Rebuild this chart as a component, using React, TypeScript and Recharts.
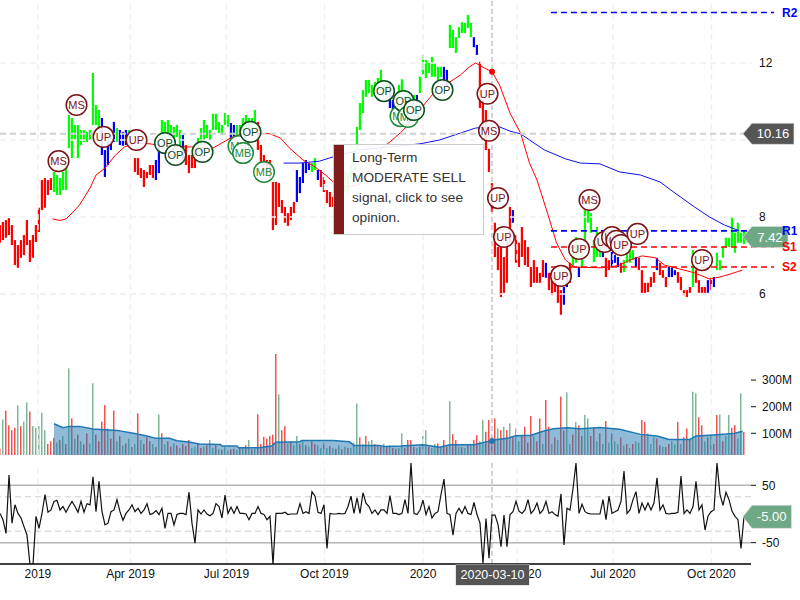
import React from "react";
import { ComposedChart, Bar, Line, Area, Scatter, XAxis, YAxis, ReferenceLine, ReferenceDot } from "recharts";

const highs = [
  7.79,7.87,7.92,7.97,7.79,7.40,7.27,7.40,7.53,7.92,
  7.40,7.53,7.79,8.24,8.96,9.01,8.96,9.01,9.17,9.09,
  9.01,9.17,9.35,10.65,10.57,10.39,10.39,10.26,10.26,10.21,
  10.26,11.74,10.91,10.78,10.57,9.74,10.0,10.13,10.47,10.31,
  10.26,10.21,10.26,10.26,10.23,9.53,9.53,9.27,9.22,9.17,
  9.35,9.35,9.48,9.92,10.52,10.47,10.52,10.39,10.34,10.39,
  10.26,10.13,9.87,9.61,9.61,9.74,10.05,10.31,10.52,10.39,
  10.26,10.68,10.68,10.47,10.39,10.70,10.65,10.44,10.39,10.39,
  10.39,10.57,10.65,10.57,10.57,10.78,10.47,9.87,9.61,9.48,
  9.48,8.91,8.91,8.88,8.44,8.26,8.10,8.26,8.39,9.22,
  9.04,9.40,9.48,9.40,9.40,9.53,9.22,9.22,9.04,8.70,
  8.65,8.52,8.75,9.01,9.09,9.17,9.14,9.35,9.74,10.34,
  10.96,11.30,11.56,11.56,11.43,11.51,11.61,11.82,11.56,11.48,
  11.51,11.04,11.17,11.43,11.58,11.30,11.17,11.22,11.17,11.17,
  11.64,12.21,12.08,12.0,12.16,12.0,11.90,11.90,11.90,11.82,
  12.99,12.86,12.67,12.93,13.06,13.04,13.25,13.04,12.67,12.47,
  12.03,11.04,10.78,9.77,8.88,7.85,7.22,7.22,6.96,7.40,
  8.26,8.18,7.53,7.33,7.74,7.40,7.22,6.70,6.88,6.70,
  6.55,6.88,6.81,6.55,6.55,6.44,6.23,6.10,6.18,6.55,
  6.81,7.27,7.48,6.70,7.22,8.18,8.18,8.10,7.40,7.74,
  7.40,7.09,6.94,6.88,7.09,7.01,6.96,6.81,6.88,7.07,
  7.14,7.14,6.96,6.94,6.62,6.29,6.29,6.44,6.57,6.94,
  6.81,6.62,6.44,6.70,6.68,6.62,6.57,6.44,6.10,6.10,
  6.18,7.14,6.62,6.36,6.18,6.18,6.36,6.42,6.44,7.07,
  6.88,7.22,7.46,7.46,8.0,7.59,7.85,7.59,7.64,
];
const lows = [
  7.33,7.40,7.46,7.53,7.27,6.75,6.68,6.94,7.01,7.27,
  6.83,6.94,7.35,7.61,8.18,8.24,8.57,8.70,8.65,8.57,
  8.57,8.70,8.70,9.79,9.53,10.0,9.53,9.87,9.95,9.95,
  10.0,10.39,10.39,10.26,9.61,9.04,9.35,9.74,9.95,9.95,
  9.87,9.85,9.87,10.0,10.05,9.17,9.09,9.01,8.78,9.01,
  9.09,9.01,8.96,9.14,10.0,10.05,10.13,10.05,9.92,10.08,
  9.87,9.48,9.35,9.14,9.27,9.27,9.74,9.87,10.0,10.05,
  10.0,10.26,10.26,10.18,10.13,10.39,10.34,10.0,10.10,10.13,
  10.13,10.26,10.26,10.31,10.26,10.39,9.74,9.43,9.35,9.09,
  9.01,7.66,7.79,8.26,8.10,7.85,7.77,7.92,8.10,8.39,
  8.62,8.88,9.14,9.22,9.17,9.22,8.96,8.78,8.65,8.36,
  8.26,8.26,8.31,8.49,8.65,8.65,8.62,9.01,9.22,9.74,
  10.26,10.70,11.12,11.22,11.12,11.22,11.30,11.48,11.30,11.25,
  10.83,10.78,11.04,11.09,11.22,11.04,11.04,11.04,11.04,10.96,
  11.22,11.69,11.61,11.74,11.64,11.64,11.56,11.64,11.48,11.38,
  12.39,12.39,12.26,12.65,12.78,12.78,12.91,12.67,12.41,12.21,
  10.83,10.26,9.74,9.17,8.13,6.96,6.62,5.92,6.03,6.29,
  7.33,7.85,6.81,6.70,6.96,6.75,6.70,6.18,6.29,6.29,
  6.29,6.44,6.42,6.10,5.97,6.05,5.77,5.46,5.72,6.18,
  6.29,6.70,6.81,6.44,6.70,7.40,7.85,7.59,6.83,6.96,
  6.96,6.96,6.44,6.62,6.70,6.81,6.70,6.55,6.57,6.81,
  6.81,6.88,6.70,6.62,6.03,6.03,6.05,6.18,6.29,6.62,
  6.49,6.42,6.18,6.44,6.44,6.49,6.29,6.10,5.97,5.92,
  6.03,6.18,6.29,6.03,6.03,6.03,6.03,6.10,6.18,6.62,
  6.62,6.94,7.20,7.22,7.22,7.07,7.33,7.33,7.30,
];
const priceClassRuns: [string, number][] = [
  ["r",18],["g",16],["b",5],["g",1],["b",3],["g",2],["r",7],["b",2],["g",7],["b",1],["r",4],["g",11],
  ["b",2],["g",7],["r",13],["b",5],["g",2],["b",1],["r",7],["g",16],["b",2],["g",7],["b",1],["g",8],
  ["b",2],["g",8],["b",2],["r",11],["b",1],["r",10],["b",1],["r",5],["b",2],["r",1],["g",2],["b",1],
  ["g",7],["b",1],["r",2],["b",3],["r",1],["g",4],["b",1],["r",6],["b",1],["r",3],["b",3],["r",5],
  ["g",1],["r",4],["b",1],["r",1],["b",1],["g",10],
];
const volumes = [
  43,152,185,130,112,121,205,127,144,216,
  182,127,121,127,178,112,60,70,83,66,
  75,90,60,344,156,80,95,70,58,100,
  62,288,95,70,144,206,118,80,185,70,
  90,55,62,80,48,60,175,75,60,85,
  70,60,48,171,100,60,70,50,62,55,
  45,60,52,75,45,50,62,45,50,55,
  75,45,55,40,38,48,35,40,42,38,
  45,48,55,75,40,42,172,60,87,80,
  90,95,398,246,112,127,62,70,55,90,
  60,70,55,50,70,60,55,45,65,45,
  52,45,42,55,40,50,45,45,65,212,
  85,60,90,70,75,60,55,50,60,48,
  55,45,42,45,100,45,75,75,48,45,
  50,90,112,50,45,60,62,48,75,50,
  221,97,75,50,48,45,55,60,75,93,
  70,150,106,150,85,156,118,112,125,112,
  137,85,118,70,90,125,65,165,90,70,
  156,60,225,125,60,85,75,238,110,254,
  60,95,143,130,90,169,156,90,120,70,
  100,60,146,65,100,70,60,85,55,60,
  45,60,70,65,150,143,100,60,85,80,
  55,50,48,60,70,58,143,60,85,118,
  75,256,250,160,130,70,85,95,60,169,
  171,70,90,169,120,131,80,250,105,
];
const volumeSides = "rgrrrrgrgg"+"rgggggrrrg"+"rgrgrgrgrr"+"ggrrrrgrrg"+"rgrgrgrgrr"+"rgrgrgrrgr"+"grrrggrrgr"+"ggrgrggrrg"+"rgrgrgrrrr"+"rrrgrrgrgg"+"rgrgrrggrg"+"rgrgrgrggg"+"rgrggrgrgr"+"grrggrrrrg"+"rggrggrgrr"+"grrgrgrgrr"+"ggrrrrgrgr"+"grggrrrrgr"+"rgrrgrgrrg"+"grgrrggrrg"+"rgrgrggrgr"+"grggrrgggr"+"rgrrggrgrr"+"rggrrgrgrr"+"grggrrggr";
const oscillator = [
  1,-10,-34,68,-16,16,1,-7,-22,-37,
  -88,-88,-4,-25,1,34,3,7,22,24,
  7,13,3,13,22,13,3,22,3,18,
  16,65,4,57,4,-19,-16,4,7,25,
  4,-11,1,7,16,4,10,1,7,18,
  -1,1,6,-1,10,-25,1,1,-19,-1,
  1,1,-1,38,-16,-51,7,0,7,0,
  -3,1,18,13,-7,33,1,12,1,13,
  1,1,0,-10,1,1,13,1,-1,-10,
  -4,-88,1,1,1,3,-1,0,0,0,
  18,1,4,1,39,31,3,1,16,-60,
  1,0,0,1,0,1,13,31,1,28,
  1,37,19,13,1,7,-1,7,7,1,
  32,1,1,-1,1,25,1,89,1,-1,
  7,24,-1,13,-7,1,4,34,61,1,
  -1,-37,1,10,1,13,1,-1,20,-1,
  -16,-86,-8,-77,-2,-2,-18,-57,-2,-57,
  -1,4,22,5,1,7,25,1,7,19,
  1,7,22,1,4,-1,-4,35,-54,10,
  7,44,89,1,17,4,1,0,0,0,
  0,25,-10,31,1,4,7,22,75,1,
  7,25,39,1,19,7,19,7,19,63,
  7,16,1,0,1,1,3,66,1,7,
  1,13,57,7,16,-28,-4,4,7,89,
  34,15,38,25,5,-4,-10,-60,-5,
];
const ma50: [number, number][] = [
  [35,7.95],[40,7.91],[44,7.95],[48,8.10],[53,8.31],[60,8.75],[64,9.09],[70,9.27],[77,9.61],[83,9.82],[90,9.92],
  [100,9.90],[110,9.84],[120,9.82],[127,9.82],[142,9.79],[155,10.08],[163,10.18],[170,10.18],[180,10.16],[187,10.05],
  [193,9.79],[202,9.48],[210,9.30],[217,9.09],[223,8.88],[230,8.78],[239,8.83],[247,9.27],[253,9.74],[260,9.95],
  [269,10.26],[277,10.65],[287,11.12],[293,11.38],[300,11.51],[307,11.69],[313,11.90],[317,12.0],[323,11.87],[328,11.77],
  [333,11.43],[340,10.70],[347,10.18],[353,9.40],[358,8.96],[365,8.10],[371,7.33],[377,6.88],[383,6.70],[400,6.68],
  [407,6.70],[413,6.75],[420,6.88],[428,6.99],[437,6.94],[443,6.75],[453,6.65],[463,6.55],[473,6.39],[480,6.44],[487,6.52],[495,6.62],
];
const ma200: [number, number][] = [
  [189,9.40],[200,9.40],[213,9.45],[222,9.56],[240,9.74],[260,9.82],[280,9.90],[293,10.0],[307,10.18],[317,10.31],[327,10.34],
  [333,10.34],[340,10.23],[347,10.16],[353,10.0],[363,9.74],[377,9.51],[387,9.40],[400,9.38],[413,9.17],[427,9.09],[440,8.91],
  [450,8.62],[463,8.26],[473,8.0],[483,7.79],[493,7.64],
];
const avgVolume: [number, number][] = [
  [36,136],[42,121],[46,126],[53,126],[62,116],[78,111],[89,100],[98,90],[104,81],[113,81],[118,72],[127,66],[133,60],[147,58],[148,52],
  [158,52],[159,46],[173,46],[181,52],[184,66],[200,68],[201,73],[222,73],[233,68],[236,54],[253,54],[257,50],[267,52],[282,57],[293,48],
  [300,57],[316,57],[322,65],[329,75],[338,81],[344,91],[354,93],[362,108],[369,117],[378,121],[387,117],[400,122],[413,115],[427,96],
  [438,90],[446,77],[460,77],[464,90],[473,93],[484,97],[490,100],[495,108],
];
const signalTexts = ["MS","MS","UP","UP","OP","OP","OP","MB","MB","OP","MB","OP","MB","OP","MB","OP","OP","UP","MS","UP","UP","UP","UP","MS","UP","UP","UP","UP","UP","UP"];
const signalSessions = [39,51,69,91,110,117,135,159,162,167,176,256,267,269,272,276,295,325,326,332,336,374,386,393,403,408,411,414,425,468];
const signalPrices = [9.45,10.91,10.08,10.0,9.92,9.61,9.69,9.84,9.66,10.21,9.17,11.27,10.62,11.01,10.60,10.78,11.30,11.20,10.24,8.49,7.48,6.47,7.17,8.44,7.35,7.48,7.38,7.27,7.56,6.88];
const tickSessions = [25.3,87,151,216.3,282,344.7,408.7,474.3];
const tickLabels = ["2019","Apr 2019","Jul 2019","Oct 2019","2020","Apr 2020","Jul 2020","Oct 2020"];
const levelNames = ["R2","R1","S1","S2"];
const levelValues = [13.31,7.64,7.22,6.70];
const levelColors = ["#0000ff","#0000ff","#ff0000","#ff0000"];
const priceTicks = [6,8,12];
const priceGrid = [6,8,10,12];
const volumeTicks = [100,200,300];
const oscTicks = [-50,50];
const oscDashed = [-30,30];

const FONT = "'Liberation Sans', Arial, sans-serif";
const CROSS_S = 328;
const priceClasses = priceClassRuns.flatMap(([c, n]) => Array(n).fill(c));
const rows = highs.map((h, i) => ({ s: i * 2, hi: h, lo: lows[i], cls: priceClasses[i], vol: volumes[i], side: volumeSides[i], osc: oscillator[i] }));
const ma50Rows = ma50.map(([s, v]) => ({ s, v }));
const ma200Rows = ma200.map(([s, v]) => ({ s, v }));
const avgRows = avgVolume.map(([s, v]) => ({ s, v }));
const signalRows = signalTexts.map((t, i) => ({ s: signalSessions[i], price: signalPrices[i], t }));
const classColor: Record<string, string> = { r: "#ff0000", g: "#00ff00", b: "#0000ff" };
const signalColor: Record<string, string> = { MS: "#7a1418", UP: "#7a1418", OP: "#0f4d1f", MB: "#1f8a3b" };

const PriceBar = (p: any) => {
  const c = classColor[p.payload.cls];
  return <rect x={p.x + p.width / 2 - 1.1} y={p.y} width={2.2} height={Math.abs(p.height)} fill={c} />;
};
const VolumeBar = (p: any) => {
  const c = p.payload.side === "r" ? "#ee2a24" : "#5fa67d";
  return <rect x={p.x + p.width / 2 - 0.6} y={p.y} width={1.2} height={Math.abs(p.height)} fill={c} />;
};

const Marker = (p: any) => {
  const c = signalColor[p.payload.t];
  return (
    <g>
      <circle cx={p.cx} cy={p.cy} r={10.3} fill="#fff" fillOpacity={0.88} stroke={c} strokeWidth={1.5} />
      <text x={p.cx} y={p.cy + 3.8} textAnchor="middle" fontSize={11} fill={c} fontFamily={FONT}>{p.payload.t}</text>
    </g>
  );
};

const chip = (color: string, label: string, right: number, half: number) => (p: any) => {
  const { cx, cy } = p;
  const pts = `${cx},${cy} ${cx + 9},${cy - half} ${cx + right},${cy - half} ${cx + right},${cy + half} ${cx + 9},${cy + half}`;
  return (
    <g>
      <polygon points={pts} fill={color} stroke="#ddd" strokeWidth={0.6} />
      <text x={cx + (right + 9) / 2} y={cy + 4.6} textAnchor="middle" fontSize={13} fill="#fff" fontFamily={FONT}>{label}</text>
    </g>
  );
};

const PriceTick = (p: any) => (
  <text x={759} y={p.y + 4.5} fontSize={12} fill="#111" fontFamily={FONT}>{p.payload.value}</text>
);

const gridLines = (ids: string) =>
  tickSessions.map((t) => (
    <ReferenceLine key={ids + t} x={t} stroke="#f0f0f0" strokeWidth={1.5} strokeDasharray="6 4" />
  ));

export default function App() {
  const sharedAxis = { type: "number" as const, dataKey: "s", allowDataOverflow: true };
  return (
    <div style={{ position: "absolute", left: 0, top: 0, width: 800, height: 600, background: "#fff", fontFamily: FONT, overflow: "hidden" }}>
      <div style={{ position: "absolute", left: 0, top: 0 }}>
        <ComposedChart width={800} height={350} data={rows} margin={{ top: 0, right: 0, bottom: 0, left: 0 }}>
          <XAxis {...sharedAxis} hide domain={[0, 533.33]} />
          <YAxis orientation="right" mirror domain={[4.545, 13.636]} ticks={priceTicks} axisLine={false} tickLine={false} tick={PriceTick} allowDataOverflow />
          {gridLines("p")}
          {priceGrid.map((v) => (
            <ReferenceLine key={v} segment={[{ x: 0, y: v }, { x: 501, y: v }]} stroke="#f0f0f0" strokeWidth={1.5} strokeDasharray="6 4" />
          ))}
          <Bar dataKey={(d: any) => [d.lo, d.hi]} shape={PriceBar} isAnimationActive={false} />
          <Line data={ma50Rows} dataKey="v" stroke="#ff0000" strokeWidth={1} dot={false} activeDot={false} isAnimationActive={false} />
          <Line data={ma200Rows} dataKey="v" stroke="#1010ee" strokeWidth={1} dot={false} activeDot={false} isAnimationActive={false} />
          <Scatter data={signalRows} dataKey="price" shape={Marker} isAnimationActive={false} />
          {levelNames.map((n, i) => (
            <ReferenceLine
              key={n}
              segment={[{ x: 367.3, y: levelValues[i] }, { x: 516, y: levelValues[i] }]}
              stroke={levelColors[i]}
              strokeWidth={1.6}
              strokeDasharray="6 4"
              label={{ value: n, position: "right", offset: 8, fill: levelColors[i], fontSize: 12, fontWeight: 700, fontFamily: FONT }}
            />
          ))}
          <ReferenceLine segment={[{ x: 0, y: 10.16 }, { x: 496, y: 10.16 }]} stroke="#cfcfcf" strokeWidth={2} strokeDasharray="6 4" />
          <ReferenceLine x={CROSS_S} stroke="#a8a8a8" strokeWidth={1} strokeDasharray="5 3" />
          <ReferenceDot x={CROSS_S} y={11.77} r={3} fill="#ff0000" stroke="none" />
          <ReferenceDot x={495.3} y={10.16} shape={chip("#555555", "10.16", 51, 10.5)} />
          <ReferenceDot x={495.3} y={7.48} shape={chip("#6fa885", "7.42", 45, 10.5)} />
        </ComposedChart>
      </div>
      <div style={{ position: "absolute", left: 0, top: 350 }}>
        <ComposedChart width={800} height={105} data={rows} margin={{ top: 0, right: 0, bottom: 0, left: 0 }}>
          <XAxis {...sharedAxis} hide domain={[0, 500.67]} />
          <YAxis orientation="right" width={49} domain={[18.5, 413]} ticks={volumeTicks} axisLine={false} tickSize={5} tickMargin={6} stroke="#111"
            tick={{ fontSize: 12, fill: "#111", fontFamily: FONT }} tickFormatter={(v: number) => `${v}M`} allowDataOverflow />
          {gridLines("v")}
          <Bar dataKey="vol" shape={VolumeBar} isAnimationActive={false} />
        </ComposedChart>
      </div>
      <div style={{ position: "absolute", left: 0, top: 350 }}>
        <ComposedChart width={800} height={105} data={avgRows} margin={{ top: 0, right: 49, bottom: 0, left: 0 }}>
          <XAxis {...sharedAxis} hide domain={[0, 500.67]} />
          <YAxis hide domain={[18.5, 413]} allowDataOverflow />
          <Area dataKey="v" stroke="#1f77b4" strokeWidth={1.5} fill="#1f77b4" fillOpacity={0.5} dot={false} activeDot={false} isAnimationActive={false} />
          <ReferenceLine x={CROSS_S} stroke="#a8a8a8" strokeWidth={1} strokeDasharray="5 3" />
          <ReferenceDot x={CROSS_S} y={71} r={3} fill="#1f77b4" stroke="none" />
        </ComposedChart>
      </div>
      <div style={{ position: "absolute", left: 0, top: 463 }}>
        <ComposedChart width={800} height={137} data={rows} margin={{ top: 0, right: 0, bottom: 0, left: 0 }}>
          <XAxis {...sharedAxis} height={36} domain={[0, 500.67]} ticks={tickSessions} interval={0} tickLine={false} tickSize={0} tickMargin={5}
            tickFormatter={(_: number, i: number) => tickLabels[i]} tick={{ fontSize: 12, fill: "#111", fontFamily: FONT }} axisLine={{ stroke: "#000", strokeWidth: 1.5 }} />
          <YAxis orientation="right" width={49} domain={[-87.2, 88.9]} ticks={oscTicks} axisLine={false} tickSize={5} tickMargin={6} stroke="#111"
            tick={{ fontSize: 12, fill: "#111", fontFamily: FONT }} allowDataOverflow />
          {gridLines("o")}
          {oscTicks.map((v) => <ReferenceLine key={v} y={v} stroke="#b4b4b4" strokeWidth={1.5} />)}
          {oscDashed.map((v) => <ReferenceLine key={v} y={v} stroke="#cfcfcf" strokeWidth={1} strokeDasharray="6 4" />)}
          <ReferenceLine x={CROSS_S} stroke="#a8a8a8" strokeWidth={1} strokeDasharray="5 3" />
          <Line dataKey="osc" stroke="#111" strokeWidth={1.2} dot={false} activeDot={false} isAnimationActive={false} />
          <ReferenceDot x={495.3} y={-5} shape={chip("#6fa885", "-5.00", 48.5, 11.5)} />
        </ComposedChart>
      </div>
      <div style={{ position: "absolute", left: 333, top: 144, width: 149, height: 89, background: "rgba(255,255,255,0.9)", border: "1px solid #ccc", boxSizing: "content-box" }}>
        <div style={{ position: "absolute", left: 0, top: 0, bottom: 0, width: 10, background: "#7f1d1d" }} />
        <div style={{ position: "absolute", left: 18, top: 3, fontSize: 13.7, lineHeight: "20px", color: "#333", whiteSpace: "nowrap" }}>
          Long-Term<br />MODERATE SELL<br />signal, click to see<br />opinion.
        </div>
      </div>
      <div style={{ position: "absolute", left: 456, top: 565, width: 73, height: 20, background: "#555", color: "#fff", fontSize: 12.5, lineHeight: "20px", textAlign: "center", boxShadow: "0 0 0 0.5px #ccc" }}>
        2020-03-10
      </div>
    </div>
  );
}
